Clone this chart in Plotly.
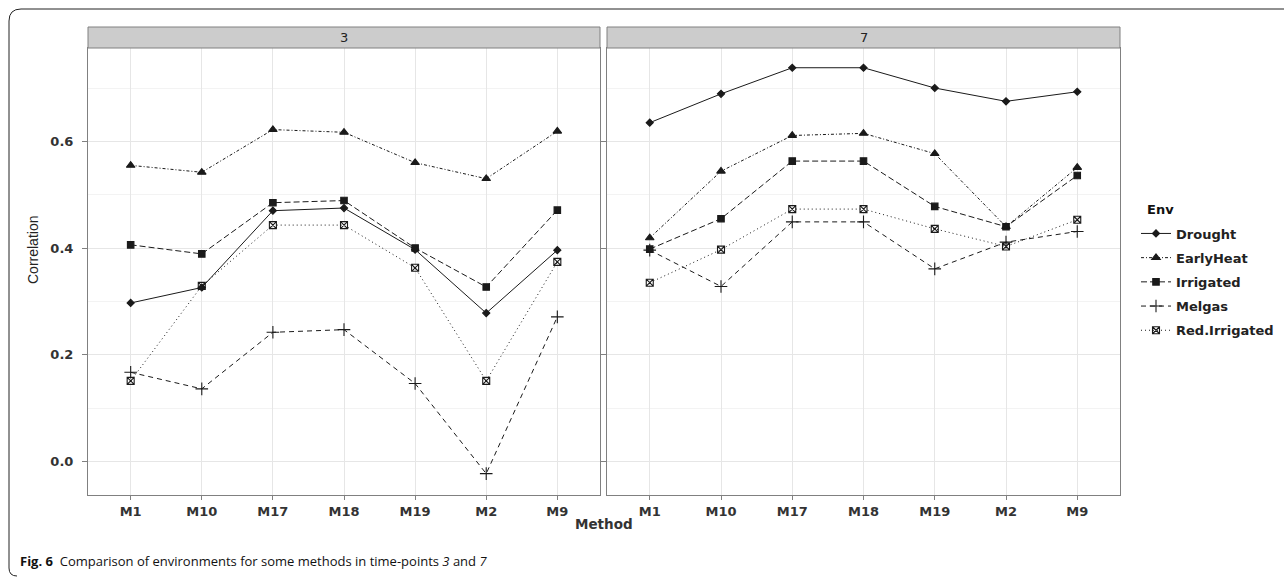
import plotly.graph_objects as go

methods = ["M1", "M10", "M17", "M18", "M19", "M2", "M9"]
envs = ["Drought", "EarlyHeat", "Irrigated", "Melgas", "Red.Irrigated"]

# time-point 3
tp3_drought = [0.297, 0.326, 0.470, 0.475, 0.397, 0.278, 0.396]
tp3_earlyheat = [0.555, 0.542, 0.622, 0.617, 0.560, 0.530, 0.619]
tp3_irrigated = [0.406, 0.389, 0.485, 0.489, 0.400, 0.327, 0.471]
tp3_melgas = [0.167, 0.136, 0.242, 0.247, 0.146, -0.023, 0.271]
tp3_redirrigated = [0.151, 0.329, 0.443, 0.443, 0.363, 0.151, 0.374]

# time-point 7
tp7_drought = [0.635, 0.689, 0.738, 0.738, 0.700, 0.675, 0.693]
tp7_earlyheat = [0.419, 0.544, 0.611, 0.615, 0.577, 0.440, 0.551]
tp7_irrigated = [0.398, 0.455, 0.563, 0.563, 0.478, 0.440, 0.536]
tp7_melgas = [0.396, 0.328, 0.449, 0.449, 0.361, 0.411, 0.431]
tp7_redirrigated = [0.335, 0.397, 0.473, 0.473, 0.436, 0.403, 0.453]

panels = ["3", "7"]
y_ticks = [0.0, 0.2, 0.4, 0.6]
y_ticklabels = ["0.0", "0.2", "0.4", "0.6"]

data = {
    "3": [tp3_drought, tp3_earlyheat, tp3_irrigated, tp3_melgas, tp3_redirrigated],
    "7": [tp7_drought, tp7_earlyheat, tp7_irrigated, tp7_melgas, tp7_redirrigated],
}

styles = {
    "Drought": dict(dash="solid", symbol="diamond", size=5.5),
    "EarlyHeat": dict(dash="3px,2px,1px,2px", symbol="triangle-up", size=7.5),
    "Irrigated": dict(dash="6px,3px", symbol="square", size=6.5),
    "Melgas": dict(dash="5px,4px", symbol="cross-thin-open", size=9),
    "Red.Irrigated": dict(dash="1px,3px", symbol="square-x-open", size=7),
}

W, H = 1284, 577


def px(x):
    return x / W


def py(y):
    return 1 - y / H


fig = go.Figure()
line_col = "#1a1a1a"
for pi, p in enumerate(panels):
    xa = "x" if pi == 0 else "x2"
    ya = "y" if pi == 0 else "y2"
    for ei, env in enumerate(envs):
        st = styles[env]
        fig.add_trace(go.Scatter(
            x=methods, y=data[p][ei], xaxis=xa, yaxis=ya,
            mode="lines+markers", name=env, legendgroup=env,
            showlegend=(pi == 0),
            line=dict(color=line_col, width=1, dash=st["dash"]),
            marker=dict(symbol=st["symbol"], size=st["size"], color=line_col,
                        line=dict(color=line_col, width=1.1)),
        ))

frame = "#808080"
grid = "#e6e6e6"
tfont = dict(family="DejaVu Sans", size=13, color="#333333")
xcommon = dict(
    type="category", categoryorder="array", categoryarray=methods,
    range=[-0.6, 6.6], showline=True, mirror=True, linecolor=frame, linewidth=1,
    showgrid=True, gridcolor=grid, gridwidth=1, ticks="outside", ticklen=4,
    tickcolor=frame, tickvals=methods,
    ticktext=["<b>" + m + "</b>" for m in methods],
    tickfont=tfont, zeroline=False, fixedrange=True,
)
ycommon = dict(
    range=[-0.063, 0.775], domain=[py(495), py(48)], showline=True, mirror=True,
    linecolor=frame, linewidth=1, showgrid=True, gridcolor=grid, gridwidth=1,
    tickvals=y_ticks, zeroline=False, ticks="outside", ticklen=5, tickcolor=frame,
    minor=dict(tickvals=[0.1, 0.3, 0.5, 0.7], showgrid=True, gridcolor="#f3f3f3", ticks=""),
    fixedrange=True,
)

fig.update_layout(
    width=W, height=H, margin=dict(l=0, r=0, t=0, b=0),
    paper_bgcolor="white", plot_bgcolor="white",
    xaxis=dict(domain=[px(88), px(600)], **xcommon),
    xaxis2=dict(domain=[px(607), px(1120)], anchor="y2", **xcommon),
    yaxis=dict(ticktext=["<b>" + t + "</b>" for t in y_ticklabels],
               tickfont=tfont, ticklabelstandoff=6, anchor="x", **ycommon),
    yaxis2=dict(showticklabels=False, anchor="x2", matches="y", **ycommon),
    legend=dict(
        x=px(1136), y=py(218.5), xanchor="left", yanchor="top",
        font=dict(size=13, family="DejaVu Sans", color="#222", weight="bold"),
        tracegroupgap=4.3, itemwidth=30, bgcolor="rgba(0,0,0,0)",
    ),
    showlegend=True,
)

shapes = []
annotations = []
strips = [(88, 600, "3"), (607, 1120, "7")]
for x0, x1, lab in strips:
    shapes.append(dict(type="rect", xref="paper", yref="paper",
                       x0=px(x0), x1=px(x1), y0=py(48), y1=py(27),
                       fillcolor="#cccccc", line=dict(color=frame, width=1), layer="above"))
    annotations.append(dict(xref="paper", yref="paper", x=px((x0 + x1) / 2), y=py(37.5),
                            text=lab, showarrow=False, xanchor="center", yanchor="middle",
                            font=dict(size=13, family="DejaVu Sans", color="#222")))

# outer rounded border
bx, by, r, bb = 9, 9, 12, 576
path = (f"M {px(W)} {py(by)} L {px(bx + r)} {py(by)} "
        f"Q {px(bx)} {py(by)} {px(bx)} {py(by + r)} L {px(bx)} {py(bb - 8)} "
        f"Q {px(bx)} {py(bb)} {px(bx + 8)} {py(bb)}")
shapes.append(dict(type="path", xref="paper", yref="paper", path=path,
                   line=dict(color="#222222", width=1)))

annotations.append(dict(xref="paper", yref="paper", x=px(1145), y=py(209), text="<b>Env</b>",
                        showarrow=False, xanchor="left", yanchor="middle",
                        font=dict(size=13, family="DejaVu Sans", color="#111")))
annotations.append(dict(xref="paper", yref="paper", x=px(33), y=py(250), text="Correlation",
                        textangle=-90, showarrow=False, xanchor="center", yanchor="middle",
                        font=dict(size=14, family="Liberation Sans Narrow, Liberation Sans, Arial", color="#222")))
annotations.append(dict(xref="paper", yref="paper", x=px(604), y=py(524), text="<b>Method</b>",
                        showarrow=False, xanchor="center", yanchor="middle",
                        font=dict(size=13.5, family="DejaVu Sans", color="#333")))
annotations.append(dict(xref="paper", yref="paper", x=px(18), y=py(561),
                        text="<b>Fig. 6</b>  Comparison of environments for some methods in time-points <i>3</i> and <i>7</i>",
                        showarrow=False, xanchor="left", yanchor="middle",
                        font=dict(size=13, family="Open Sans", color="#111")))

fig.update_layout(shapes=shapes, annotations=annotations)
fig.write_html("out.html")
